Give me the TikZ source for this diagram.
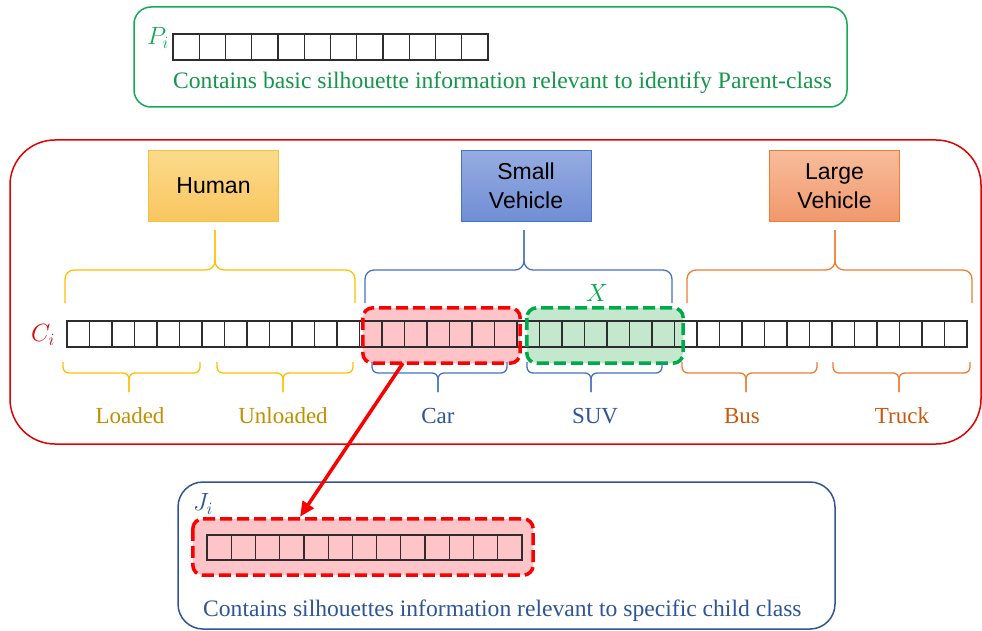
\documentclass[tikz,border=0pt]{standalone}
\usepackage{fontspec}
\setmainfont{Liberation Serif}
\newfontfamily\sansf{Liberation Sans}
\usetikzlibrary{arrows.meta,calc}
\definecolor{pgreen}{RGB}{20,170,85}
\definecolor{ptext}{RGB}{20,150,75}
\definecolor{outred}{RGB}{225,0,0}
\definecolor{dred}{RGB}{250,0,0}
\definecolor{pinkfill}{RGB}{255,196,200}
\definecolor{dgreen}{RGB}{0,170,75}
\definecolor{greenfill}{RGB}{196,232,206}
\definecolor{humbot}{RGB}{249,198,95}
\definecolor{humtop}{RGB}{252,218,140}
\definecolor{humline}{RGB}{245,192,60}
\definecolor{smtop}{RGB}{150,172,225}
\definecolor{smbot}{RGB}{112,142,212}
\definecolor{smline}{RGB}{68,114,196}
\definecolor{lgtop}{RGB}{248,188,155}
\definecolor{lgbot}{RGB}{241,152,108}
\definecolor{lgline}{RGB}{237,125,49}
\definecolor{byellow}{RGB}{255,192,0}
\definecolor{bblue}{RGB}{68,114,196}
\definecolor{borange}{RGB}{237,125,49}
\definecolor{tyellow}{RGB}{191,144,0}
\definecolor{tblue}{RGB}{47,85,151}
\definecolor{torange}{RGB}{197,90,17}
\definecolor{jblue}{RGB}{47,85,151}
\definecolor{cellline}{RGB}{45,45,45}
% brace pointing up: x1, x2, xtip, colour
\newcommand{\upbr}[4]{%
  \draw[#4, line width=1.3pt, rounded corners=9pt] (#1,303) -- (#1,270) -- (#3,270) -- (#3,230);
  \draw[#4, line width=1.3pt, rounded corners=9pt] (#3,230) -- (#3,270) -- (#2,270) -- (#2,303);}
% brace pointing down: x1, x2, xtip, colour
\newcommand{\dnbr}[4]{%
  \draw[#4, line width=1.3pt, rounded corners=6pt] (#1,362) -- (#1,373) -- (#3,373) -- (#3,392);
  \draw[#4, line width=1.3pt, rounded corners=6pt] (#3,392) -- (#3,373) -- (#2,373) -- (#2,362);}
% row of cells: x0, y0, cell width, cell height, number of cells, number of inner lines
\newcommand{\cellrow}[6]{%
  \draw[cellline, line width=1.2pt] (#1,#2) rectangle ({#1+#3*#5},{#2+#4});
  \foreach \k in {1,...,#6}{\draw[cellline, line width=1.2pt] ({#1+\k*#3},#2) -- ({#1+\k*#3},{#2+#4});}}
\tikzset{
  catbox/.style={draw, line width=1pt, minimum width=130pt, minimum height=71pt, align=center,
    inner sep=0pt, font=\sansf\fontsize{23}{29}\selectfont},
  dfill/.style={rounded corners=10pt, inner sep=0pt, draw=none},
  dline/.style={line width=3.5pt, dash pattern=on 12pt off 5pt, rounded corners=10pt},
  bigbox/.style={line width=1.5pt, inner sep=0pt},
  lbl/.style={anchor=base, font=\fontsize{23}{27}\selectfont},
  desc/.style={anchor=base west, inner sep=0pt, font=\fontsize{23.6}{28}\selectfont},
  mlab/.style={font=\fontsize{25}{30}\selectfont, inner sep=0pt}
}
\begin{document}
\begin{tikzpicture}[x=1pt,y=-1pt]
\useasboundingbox (0,0) rectangle (982,631);
\fill[white] (0,0) rectangle (982,631);

% ---- top parent box
\node[bigbox, draw=pgreen, rounded corners=17pt, minimum width=713pt, minimum height=100pt] (pbox) at (490.5,57) {};
\node[mlab, text=pgreen] (plab) at (158,38) {$P_i$};
\cellrow{173}{34}{26.25}{26}{12}{11}
\node[desc, text=ptext] (ptext) at (173,89) {Contains basic silhouette information relevant to identify Parent-class};

% ---- red outer box
\node[bigbox, draw=outred, rounded corners=45pt, minimum width=971pt, minimum height=304pt] (cbox) at (495.5,292) {};

% category boxes
\node[catbox, draw=humline, top color=humtop, bottom color=humbot] (human) at (213.5,186) {Human};
\node[catbox, draw=smline, top color=smtop, bottom color=smbot] (small) at (526,186) {Small\\Vehicle};
\node[catbox, draw=lgline, top color=lgtop, bottom color=lgbot] (large) at (834.5,186) {Large\\Vehicle};

% top braces
\upbr{65}{355}{215}{byellow}
\upbr{365}{672}{524}{bblue}
\upbr{687}{972}{835}{borange}

% highlighted regions (fill)
\node[dfill, fill=pinkfill, minimum width=157pt, minimum height=55pt] (car) at (441.5,335.5) {};
\node[dfill, fill=greenfill, minimum width=156pt, minimum height=55pt] (suv) at (605,335.5) {};

% C_i array
\node[mlab, text=outred] (clab) at (43,335) {$C_i$};
\cellrow{67}{321}{22.5}{26}{40}{39}

% dashed borders
\draw[dline, draw=dred] (car.north west) rectangle (car.south east);
\draw[dline, draw=dgreen] (suv.north west) rectangle (suv.south east);
\node[mlab, text=dgreen] (xlab) at (597,293) {$X$};

% bottom braces
\dnbr{63}{200}{129}{byellow}
\dnbr{217}{353}{283}{byellow}
\dnbr{372}{507}{438}{bblue}
\dnbr{527}{662}{591}{bblue}
\dnbr{682}{817}{746}{borange}
\dnbr{833}{970}{899}{borange}

% child labels
\node[lbl, text=tyellow] (loaded) at (130,423) {Loaded};
\node[lbl, text=tyellow] (unloaded) at (283,423) {Unloaded};
\node[lbl, text=tblue] (carlab) at (438,423) {Car};
\node[lbl, text=tblue] (suvlab) at (595,423) {SUV};
\node[lbl, text=torange] (buslab) at (742,423) {Bus};
\node[lbl, text=torange] (trucklab) at (902,423) {Truck};

% ---- bottom child box
\node[bigbox, draw=jblue, rounded corners=25pt, minimum width=657pt, minimum height=147pt] (jouter) at (506.5,555.5) {};
\node[mlab, text=jblue] (jlab) at (203,504) {$J_i$};
\node[dfill, fill=pinkfill, minimum width=340pt, minimum height=56pt] (jbox) at (363,547) {};
\cellrow{207}{535}{24.23}{25}{13}{12}
\draw[dline, draw=dred] (jbox.north west) rectangle (jbox.south east);
\node[desc, text=jblue] (jtext) at (203,616) {Contains silhouettes information relevant to specific child class};

% arrow
\draw[dred, line width=3.5pt, -{Triangle[length=15pt,width=13pt]}]
  ($(car.south west)!0.255!(car.south east)$) -- ($(jbox.north west)!0.315!(jbox.north east)+(0,-2)$);
\end{tikzpicture}
\end{document}
